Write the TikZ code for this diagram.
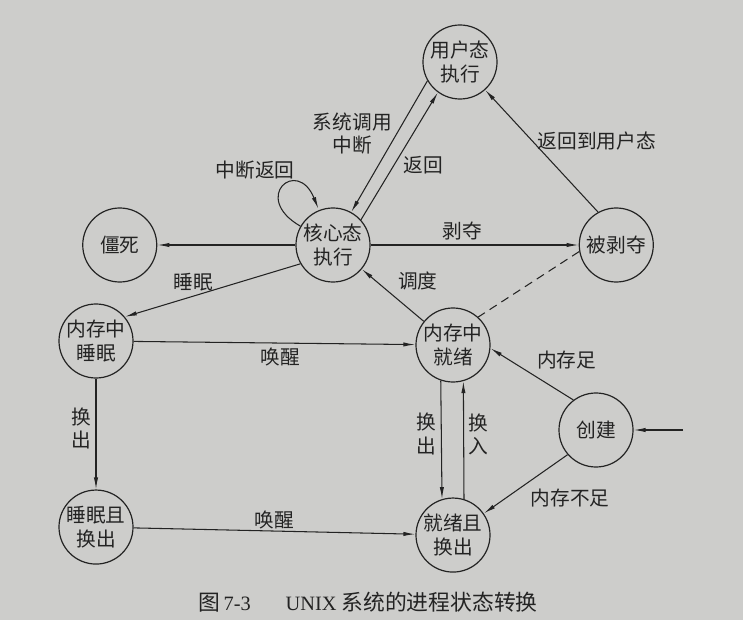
\documentclass[tikz,border=0pt]{standalone}
\usepackage{fontspec}
\setmainfont{Noto Sans CJK SC}
\newfontfamily\capserif{Liberation Serif}
\usetikzlibrary{arrows.meta,automata}
\definecolor{paper}{RGB}{205,205,203}
\definecolor{ink}{RGB}{35,35,35}

\begin{document}
\begin{tikzpicture}[->,>={Latex[length=8.5pt,width=3pt]},x=0.025cm,y=0.025cm,
                    line width=0.75pt,color=ink,
                    every node/.style={font=\fontsize{14}{16.5}\selectfont,align=center},
                    every state/.style={draw=ink,fill=paper,line width=0.85pt,
                                        minimum size=1.85cm,inner sep=0pt},
                    every loop/.append style={looseness=6}]
   \fill[paper] (0,0) rectangle (743,620);

   \node[state] (kernel) at (333,375) {核心态\\执行};
   \node[state] (zombie) [left of=kernel,node distance=5.33cm] {僵死};
   \node[state] (preempt) [right of=kernel,node distance=7.08cm] {被剥夺};
   \node[state] (user) at (460,558) {用户态\\执行};
   \node[state] (sleepmem) at (96,279) {内存中\\睡眠};
   \node[state] (sleepswap) [below of=sleepmem,node distance=4.65cm] {睡眠且\\换出};
   \node[state] (readymem) at (453,275) {内存中\\就绪};
   \node[state] (readyswap) [below of=readymem,node distance=4.75cm] {就绪且\\换出};
   \node[state] (create) at (596,190) {创建};
   \coordinate (entry) at (683,190);

    \path[->]
    (user.210) edge node[left,pos=0.4] {系统调用\\中断} (kernel.61)
    (kernel.42) edge node[right=3pt,pos=0.43] {返回} (user.234)
    (kernel) edge [out=150,in=112,loop] node[above left,xshift=12pt,yshift=2pt] {中断返回} ()
    edge (zombie)
    edge node[above,pos=0.44] {剥夺} (preempt)
    (kernel.210) edge node[above,pos=0.61] {睡眠} (sleepmem.40)
    (preempt.119) edge node[right,pos=0.58] {返回到用户态} (user.312)
    (preempt.190) edge [-,dash pattern=on 6pt off 4pt] (readymem.48)
    (readymem.141) edge node[above right] {调度} (kernel.320)
    (sleepmem) edge node[below,pos=0.52] {唤醒} (readymem)
    edge node[left,pos=0.45] {换\\出} (sleepswap)
    (sleepswap) edge node[above,inner sep=1pt] {唤醒} (readyswap)
    (readymem.251) edge node[left,pos=0.45] {换\\出} (readyswap.107)
    (readyswap.73) edge node[right,pos=0.55] {换\\入} (readymem.286)
    (create.127) edge node[above right] {内存足} (readymem.-5)
    (create.221) edge node[below right] {内存不足} (readyswap.35)
    (entry) edge (create);

   \node (caption) at (368,18) {\fontsize{15.5}{17}\selectfont 图\,{\capserif\fontsize{14.5}{17}\selectfont 7-3}\hspace{1.6em}{\capserif\fontsize{14.5}{17}\selectfont UNIX} 系统的进程状态转换};
\end{tikzpicture}
\end{document}
